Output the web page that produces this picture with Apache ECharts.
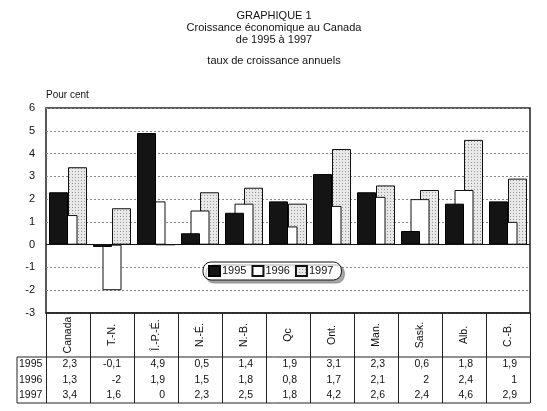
<!DOCTYPE html>
<html>
<head>
<meta charset="utf-8">
<script src="https://cdn.jsdelivr.net/npm/echarts@6/dist/echarts.min.js"></script>
<style>
html,body{margin:0;padding:0;background:#fff;}
#main{width:547px;height:411px;}
</style>
</head>
<body>
<div id="main"></div>
<script>
var categories=['Canada','T.-N.','Î.-P.-É.','N.-É.','N.-B.','Qc','Ont.','Man.','Sask.','Alb.','C.-B.'];
var years=['1995','1996','1997'];
var v1995=[2.3,-0.1,4.9,0.5,1.4,1.9,3.1,2.3,0.6,1.8,1.9];
var v1996=[1.3,-2,1.9,1.5,1.8,0.8,1.7,2.1,2,2.4,1];
var v1997=[3.4,1.6,0,2.3,2.5,1.8,4.2,2.6,2.4,4.6,2.9];
var yTicks=[-3,-2,-1,0,1,2,3,4,5,6];

var font='Liberation Sans, Arial, sans-serif';

// motif pointillé pour 1997
var pat=document.createElement('canvas');
pat.width=3;pat.height=3;
var ctx=pat.getContext('2d');
ctx.fillStyle='#e8e8e8';ctx.fillRect(0,0,3,3);
ctx.fillStyle='#999';ctx.fillRect(0,0,1,1);

var myChart=echarts.init(document.getElementById('main'),null,{renderer:'canvas'});

function fmt(v){return String(v).replace('.',',');}

var option={
  animation:false,
  textStyle:{fontFamily:font},
  title:{
    text:'GRAPHIQUE 1\nCroissance économique au Canada\nde 1995 à 1997',
    left:269,top:5,textAlign:'center',
    textStyle:{fontSize:11,fontWeight:'normal',color:'#111',lineHeight:12,fontFamily:font},
    subtext:'taux de croissance annuels',
    subtextStyle:{fontSize:11,color:'#111',fontFamily:font},
    itemGap:9
  },
  legend:{
    data:years,left:203,top:262,icon:'rect',
    padding:[3,8,3,5],itemWidth:11,itemHeight:10,itemGap:5,
    borderColor:'#111',borderWidth:1,borderRadius:8,
    backgroundColor:'#fff',shadowColor:'rgba(0,0,0,0.35)',shadowOffsetX:3,shadowOffsetY:3,shadowBlur:1,
    textStyle:{fontSize:11,color:'#111',padding:[0,0,0,-3],fontFamily:font}
  },
  grid:{left:46,right:17,top:108,bottom:98,show:true,borderColor:'#222',borderWidth:1.5,containLabel:false},
  xAxis:{
    type:'category',data:categories,position:'bottom',
    axisLine:{onZero:false,lineStyle:{color:'#222',width:1.5}},
    axisTick:{show:true,length:90,lineStyle:{color:'#222',width:1}},
    axisLabel:{rotate:90,align:'center',verticalAlign:'middle',margin:22,fontSize:10.5,color:'#111',fontFamily:font}
  },
  yAxis:{
    type:'value',min:-3,max:6,interval:1,
    axisLine:{show:false},axisTick:{show:false},
    axisLabel:{margin:11,fontSize:11,color:'#111',fontFamily:font},
    splitLine:{lineStyle:{color:'#888',type:[2,2],width:1}},
    name:'Pour cent',nameLocation:'end',nameGap:8,
    nameTextStyle:{align:'left',fontSize:10,color:'#111',padding:[0,0,0,0],fontFamily:font}
  },
  series:[
    {name:'1995',type:'bar',data:v1995,barWidth:19,barGap:'-50%',z:4,
     itemStyle:{color:'#141414',borderColor:'#000',borderWidth:1},
     markLine:{silent:true,symbol:'none',label:{show:false},lineStyle:{color:'#111',type:'solid',width:1.2},data:[{yAxis:0}]}},
    {name:'1996',type:'bar',data:v1996,barWidth:19,barGap:'-50%',z:3,
     itemStyle:{color:'#fff',borderColor:'#111',borderWidth:1}},
    {name:'1997',type:'bar',data:v1997,barWidth:19,barGap:'-50%',z:2,
     itemStyle:{color:{image:pat,repeat:'repeat'},borderColor:'#111',borderWidth:1}}
  ]
};
myChart.setOption(option);

// tableau de données sous le graphique
var rows=[v1995,v1996,v1997];
var rowY=[364,380,395];
var g=[];
var x0=myChart.convertToPixel({xAxisIndex:0},0);
var x1=myChart.convertToPixel({xAxisIndex:0},1);
var colW=x1-x0;
var right=myChart.convertToPixel({xAxisIndex:0},categories.length-1)+colW/2;
g.push({type:'line',shape:{x1:17,y1:357,x2:right,y2:357},style:{stroke:'#222',lineWidth:1}});
g.push({type:'line',shape:{x1:17,y1:403,x2:right,y2:403},style:{stroke:'#222',lineWidth:1}});
g.push({type:'line',shape:{x1:17,y1:357,x2:17,y2:403},style:{stroke:'#222',lineWidth:1}});
for(var r=0;r<rows.length;r++){
  g.push({type:'text',x:19,y:rowY[r],style:{text:years[r],fontSize:10.5,fill:'#111',fontFamily:font,align:'left',verticalAlign:'middle'}});
  for(var i=0;i<categories.length;i++){
    var cx=myChart.convertToPixel({xAxisIndex:0},i);
    g.push({type:'text',x:cx+9,y:rowY[r],style:{text:fmt(rows[r][i]),fontSize:10.5,fill:'#111',fontFamily:font,align:'right',verticalAlign:'middle'}});
  }
}
myChart.setOption({graphic:g});
</script>
</body>
</html>
